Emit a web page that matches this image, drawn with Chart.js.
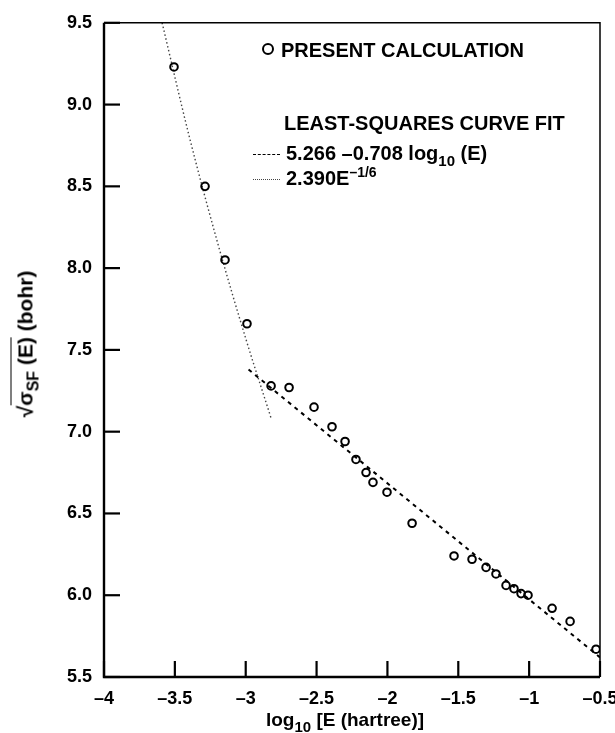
<!DOCTYPE html>
<html>
<head>
<meta charset="utf-8">
<script src="https://cdn.jsdelivr.net/npm/chart.js@4.4.1/dist/chart.umd.min.js"></script>
<style>
  body { margin: 0; background: #fff; }
  #wrap { position: relative; width: 615px; height: 733px; font-family: "Liberation Sans", Arial, sans-serif; font-weight: bold; color: #000; }
  #wrap canvas { position: absolute; left: 0; top: 0; }
  .txt { position: absolute; white-space: nowrap; font-size: 20px; line-height: 1; }
  .txt sub { font-size: 15px; vertical-align: -6px; }
  .txt sup { font-size: 14px; vertical-align: 8px; }
  .sample { display: inline-block; width: 27px; vertical-align: middle; margin-right: 6px; border-top: 1.8px dashed #000; }
  .sample.dot { border-top: 1.8px dotted #444; }
  .circ { display: inline-block; width: 8px; height: 8px; border: 2px solid #000; border-radius: 50%; margin-right: 7px; vertical-align: 2px; }
  #ytitle { position: absolute; left: 28px; top: 344px; transform: translate(-50%, -50%) rotate(-90deg); white-space: nowrap; font-size: 21px; line-height: 1; }
  #ytitle .ol { border-top: 1.6px solid #000; padding-top: 2px; }
  #ytitle sub { font-size: 16px; vertical-align: -6px; }
</style>
</head>
<body>
<div id="wrap">
  <canvas id="chart" width="615" height="733"></canvas>
  <div class="txt" style="left:262px; top:40px;"><span class="circ"></span>PRESENT CALCULATION</div>
  <div class="txt" style="left:284px; top:113px;">LEAST-SQUARES CURVE FIT</div>
  <div class="txt" style="left:253px; top:143px;"><span class="sample"></span>5.266 –0.708 log<sub>10</sub> (E)</div>
  <div class="txt" style="left:253px; top:165px;"><span class="sample dot"></span>2.390E<sup>–1/6</sup></div>
  <div class="txt" style="left:345px; top:710px; font-size:19px; transform: translateX(-50%);">log<sub>10</sub> [E (hartree)]</div>
  <div id="ytitle">√<span class="ol">σ<sub>SF</sub> (E)</span> (bohr)</div>
</div>
<script>
// computed points: log10(E) and sqrt(sigma_SF)
const calcLogE = [-3.506, -3.287, -3.146, -2.991, -2.821, -2.694, -2.518, -2.391, -2.299, -2.222,
  -2.151, -2.102, -2.003, -1.826, -1.530, -1.403, -1.304, -1.234, -1.163, -1.107,
  -1.057, -1.008, -0.838, -0.711, -0.528];
const calcSigma = [9.23, 8.50, 8.05, 7.66, 7.28, 7.27, 7.15, 7.03, 6.94, 6.83,
  6.75, 6.69, 6.63, 6.44, 6.24, 6.22, 6.17, 6.13, 6.06, 6.04,
  6.01, 6.00, 5.92, 5.84, 5.67];

// straight-line fit (dashed)
const linFitLogE = [-2.98, -0.5];
const linFitSigma = [7.38, 5.62];

// E^-1/6 fit (dotted)
const powFitLogE = [-3.59, -3.4, -3.2, -3.0, -2.82];
const powFitSigma = [9.50, 8.81, 8.16, 7.57, 7.08];

const xTickValues = [-4, -3.5, -3, -2.5, -2, -1.5, -1, -0.5];
const xTickLabels = ['–4', '–3.5', '–3', '–2.5', '–2', '–1.5', '–1', '–0.5'];
const yTickLabels = ['5.5', '6.0', '6.5', '7.0', '7.5', '8.0', '8.5', '9.0', '9.5'];

const toPts = (xs, ys) => xs.map((x, i) => ({ x: x, y: ys[i] }));

// frame + inward tick marks, taken from the scales' own extents
const framePlugin = {
  id: 'frame',
  afterDraw(chart) {
    const { ctx, scales } = chart;
    const xs = scales.x, ys = scales.y;
    const L = xs.getPixelForValue(xs.min), R = xs.getPixelForValue(xs.max);
    const T = ys.getPixelForValue(ys.max), B = ys.getPixelForValue(ys.min);
    ctx.save();
    ctx.strokeStyle = '#000';
    ctx.lineWidth = 1.5;
    ctx.beginPath();
    ctx.moveTo(L, T); ctx.lineTo(R, T); ctx.lineTo(R, B);
    ctx.stroke();
    ctx.lineWidth = 2.4;
    ctx.beginPath();
    ctx.moveTo(L, T); ctx.lineTo(L, B); ctx.lineTo(R, B);
    ctx.stroke();
    ctx.lineWidth = 2.2;
    ys.ticks.forEach(t => {
      const py = ys.getPixelForValue(t.value);
      ctx.beginPath(); ctx.moveTo(L, py); ctx.lineTo(L + 16, py); ctx.stroke();
    });
    xs.ticks.forEach(t => {
      const px = xs.getPixelForValue(t.value);
      ctx.beginPath(); ctx.moveTo(px, B); ctx.lineTo(px, B - 16); ctx.stroke();
    });
    ctx.restore();
  }
};

new Chart(document.getElementById('chart'), {
  type: 'scatter',
  data: {
    datasets: [
      {
        label: 'PRESENT CALCULATION',
        data: toPts(calcLogE, calcSigma),
        pointStyle: 'circle',
        pointRadius: 3.8,
        pointBorderWidth: 2,
        pointBorderColor: '#000',
        pointBackgroundColor: 'rgba(255,255,255,0)',
        order: 0,
      },
      {
        label: '5.266 -0.708 log10(E)',
        data: toPts(linFitLogE, linFitSigma),
        showLine: true,
        borderColor: '#000',
        borderWidth: 2,
        borderDash: [4, 4.5],
        pointRadius: 0,
        order: 1,
      },
      {
        label: '2.390E^-1/6',
        data: toPts(powFitLogE, powFitSigma),
        showLine: true,
        cubicInterpolationMode: 'monotone',
        borderColor: '#444',
        borderWidth: 1.4,
        borderDash: [1.5, 2.5],
        pointRadius: 0,
        order: 2,
      },
    ],
  },
  options: {
    responsive: false,
    animation: false,
    layout: { padding: { left: 0, top: 21, right: 15, bottom: 0 } },
    plugins: {
      legend: { display: false },
      tooltip: { enabled: false },
    },
    scales: {
      x: {
        type: 'linear',
        min: -4,
        max: -0.5,
        afterBuildTicks: s => { s.ticks = xTickValues.map(v => ({ value: v })); },
        afterFit: s => { s.height = 56; s.paddingRight = 0; },
        grid: { display: false, drawTicks: false },
        border: { display: false },
        ticks: {
          padding: 11,
          color: '#000',
          font: { family: 'Liberation Sans', size: 18, weight: 'bold' },
          maxRotation: 0,
          callback: v => xTickLabels[xTickValues.indexOf(v)],
        },
      },
      y: {
        type: 'linear',
        min: 5.5,
        max: 9.5,
        afterBuildTicks: s => { s.ticks = yTickLabels.map(l => ({ value: parseFloat(l) })); },
        afterFit: s => { s.width = 104; },
        grid: { display: false, drawTicks: false },
        border: { display: false },
        ticks: {
          padding: 12,
          color: '#000',
          font: { family: 'Liberation Sans', size: 18, weight: 'bold' },
          callback: v => yTickLabels[yTickLabels.indexOf(v.toFixed(1))],
        },
      },
    },
  },
  plugins: [framePlugin],
});
</script>
</body>
</html>
